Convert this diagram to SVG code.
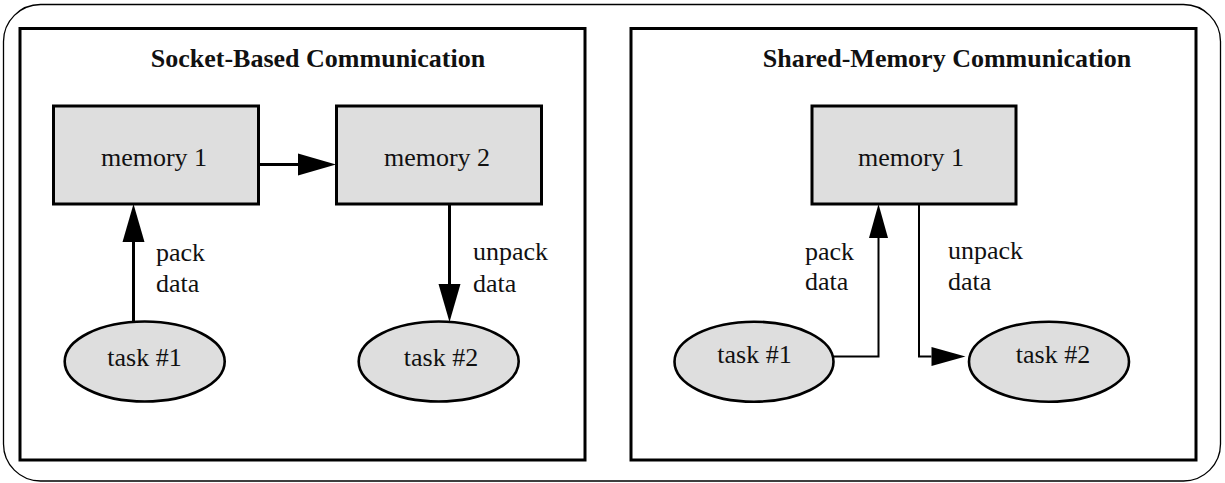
<svg xmlns="http://www.w3.org/2000/svg" width="1225" height="483" viewBox="0 0 1225 483">
  <style>
    .frame { fill: #ffffff; stroke: #000000; stroke-width: 1.3; }
    .panel { fill: none; stroke: #000000; stroke-width: 3; }
    .box { fill: #dedede; stroke: #000000; stroke-width: 3; }
    .oval { fill: #dedede; stroke: #000000; stroke-width: 2.6; }
    .title { font-family: "Liberation Serif", "Times New Roman", serif; font-size: 26px; font-weight: bold; fill: #111111; text-anchor: middle; }
    .label { font-family: "Liberation Serif", "Times New Roman", serif; font-size: 26px; fill: #111111; }
    .mid { text-anchor: middle; }
    .thick { fill: none; stroke: #000000; stroke-width: 3; }
    .thin { fill: none; stroke: #000000; stroke-width: 2; }
  </style>
  <defs>
    <marker id="headL" markerUnits="userSpaceOnUse" markerWidth="38" markerHeight="22" refX="0" refY="11" orient="auto" overflow="visible">
      <path d="M0,0 L38,11 L0,22 Z" fill="#000000"/>
    </marker>
    <marker id="headR" markerUnits="userSpaceOnUse" markerWidth="34" markerHeight="19" refX="0" refY="9.5" orient="auto" overflow="visible">
      <path d="M0,0 L34,9.5 L0,19 Z" fill="#000000"/>
    </marker>
  </defs>

  <rect class="frame" x="3.5" y="4.5" width="1217" height="476.5" rx="37" ry="37"/>

  <g id="panel-socket">
    <rect class="panel" x="20" y="28.5" width="565" height="431.5"/>
    <text class="title" x="318" y="67">Socket-Based Communication</text>
  </g>
  <g id="panel-shared">
    <rect class="panel" x="631" y="28.5" width="565" height="431.5"/>
    <text class="title" x="947" y="67">Shared-Memory Communication</text>
  </g>

  <g id="connectors">
    <line class="thick" x1="244" y1="164.5" x2="298" y2="164.5" marker-end="url(#headL)"/>
    <line class="thick" x1="133.5" y1="322" x2="133.5" y2="242" marker-end="url(#headL)"/>
    <line class="thick" x1="449.5" y1="204" x2="449.5" y2="284" marker-end="url(#headL)"/>
    <polyline class="thin" points="833,356.5 878.5,356.5 878.5,238" marker-end="url(#headR)"/>
    <polyline class="thin" points="919,204 919,356.5 931.5,356.5" marker-end="url(#headR)"/>
    <text class="label" x="156" y="261">pack</text>
    <text class="label" x="156" y="292">data</text>
    <text class="label" x="473" y="260">unpack</text>
    <text class="label" x="473" y="292">data</text>
    <text class="label" x="805" y="260">pack</text>
    <text class="label" x="805" y="290">data</text>
    <text class="label" x="948" y="259">unpack</text>
    <text class="label" x="948" y="290">data</text>
  </g>

  <g id="socket-memory1">
    <rect class="box" x="53.5" y="106" width="205" height="98"/>
    <text class="label mid" x="154" y="166">memory 1</text>
  </g>
  <g id="socket-memory2">
    <rect class="box" x="336.5" y="106" width="205" height="98"/>
    <text class="label mid" x="437" y="166">memory 2</text>
  </g>
  <g id="socket-task1">
    <ellipse class="oval" cx="144.7" cy="361.5" rx="80" ry="40"/>
    <text class="label mid" x="144.5" y="366">task #1</text>
  </g>
  <g id="socket-task2">
    <ellipse class="oval" cx="438.7" cy="361.5" rx="80" ry="40"/>
    <text class="label mid" x="441" y="366">task #2</text>
  </g>

  <g id="shared-memory1">
    <rect class="box" x="812" y="106" width="204" height="98"/>
    <text class="label mid" x="911" y="166">memory 1</text>
  </g>
  <g id="shared-task1">
    <ellipse class="oval" cx="754" cy="361.7" rx="79.5" ry="40"/>
    <text class="label mid" x="754.5" y="363">task #1</text>
  </g>
  <g id="shared-task2">
    <ellipse class="oval" cx="1049" cy="361.7" rx="80" ry="40"/>
    <text class="label mid" x="1053" y="363">task #2</text>
  </g>
</svg>
